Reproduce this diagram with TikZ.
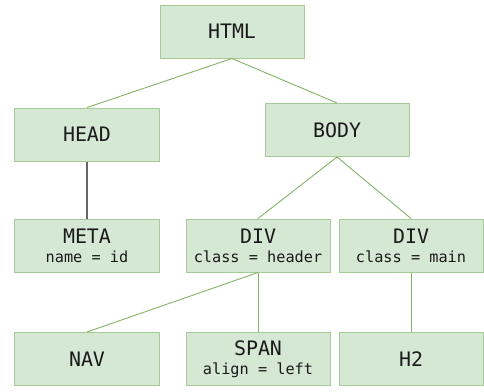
\documentclass[tikz,border=0pt]{standalone}
\usepackage{fontspec}
\setmonofont{DejaVu Sans Mono}
\definecolor{boxfill}{HTML}{D5E8D4}
\definecolor{boxline}{HTML}{82B366}
\definecolor{txt}{HTML}{1A1A1A}
\definecolor{gline}{HTML}{666666}
\begin{document}
\begin{tikzpicture}[x=1bp,y=-1bp,
  tag/.style={draw=boxline!55!boxfill,fill=boxfill,line width=1bp,minimum width=144bp,minimum height=53bp,inner sep=0pt,align=center,text=txt,font=\ttfamily\fontsize{20}{22}\selectfont},
  edge/.style={draw=boxline,line width=0.9bp},
  gedge/.style={draw=gline,line width=1.1bp}]
\newcommand{\attr}[1]{\\[-3bp]{\fontsize{15.3}{19}\selectfont #1}}
\useasboundingbox (0,0) rectangle (484,391);
\node[tag] (html) at (232,31.5) {HTML};
\node[tag] (head) at (87,134.5) {HEAD};
\node[tag] (body) at (337,130) {BODY};
\node[tag] (meta) at (87,245.5) {META\attr{name = id}};
\node[tag] (div1) at (258,245.5) {DIV\attr{class = header}};
\node[tag] (div2) at (411,245.5) {DIV\attr{class = main}};
\node[tag] (nav) at (87,359) {NAV};
\node[tag] (span) at (258,359) {SPAN\attr{align = left}};
\node[tag] (h2) at (411,359) {H2};
\draw[edge] (html.south) -- (head.north);
\draw[edge] (html.south) -- (body.north);
\draw[gedge] (head.south) -- (meta.north);
\draw[edge] (body.south) -- (div1.north);
\draw[edge] (body.south) -- (div2.north);
\draw[edge] (div1.south) -- (nav.north);
\draw[edge] (div1.south) -- (span.north);
\draw[edge] (div2.south) -- (h2.north);
\end{tikzpicture}
\end{document}
